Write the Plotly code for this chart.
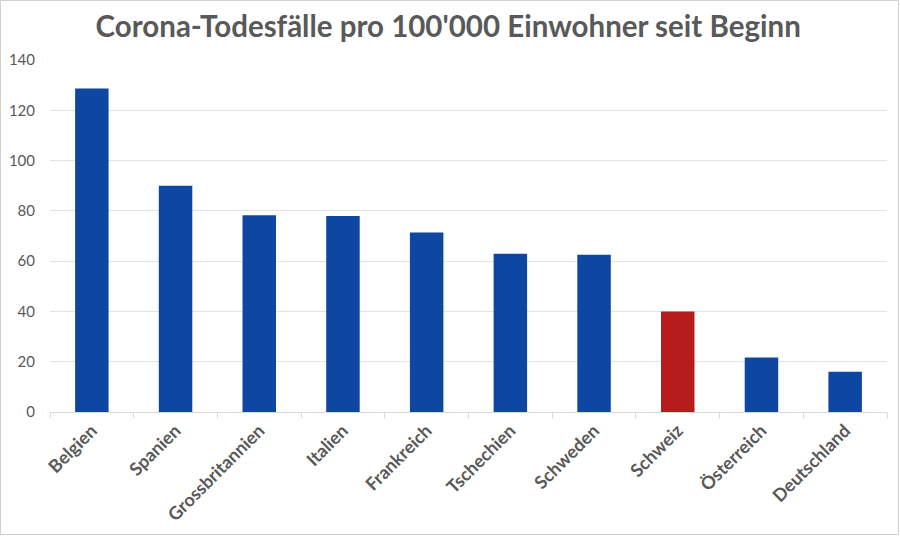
import plotly.graph_objects as go

countries = ["Belgien", "Spanien", "Grossbritannien", "Italien", "Frankreich",
             "Tschechien", "Schweden", "Schweiz", "Österreich", "Deutschland"]
deaths_per_100k = [128.7, 90.0, 78.3, 78.0, 71.4, 62.9, 62.5, 40.0, 21.7, 16.0]
highlight = "Schweiz"

blue = "#0d47a1"
red = "#b71c1c"
colors = [red if c == highlight else blue for c in countries]

W, H = 900, 536
ml, mr, mt, mb = 50, 13, 60, 124
pw, ph = W - ml - mr, H - mt - mb

fig = go.Figure(go.Bar(x=countries, y=deaths_per_100k, marker_color=colors,
                       marker_line_width=0, hoverinfo="x+y"))

fig.update_layout(
    width=W, height=H,
    margin=dict(l=ml, r=mr, t=mt, b=mb, autoexpand=False),
    paper_bgcolor="white", plot_bgcolor="white",
    bargap=0.6,
    showlegend=False,
    title=dict(text="<b>Corona-Todesfälle pro 100'000 Einwohner seit Beginn</b>",
               x=0.498, xanchor="center", y=0.95, yanchor="middle",
               font=dict(family="Lato", size=29.5, color="#595959")),
    font=dict(family="Lato", color="#595959"),
    shapes=[dict(type="rect", xref="paper", yref="paper",
                 x0=0.5 / pw - ml / pw, x1=1 + (mr - 1.5) / pw,
                 y0=-(mb - 1.5) / ph, y1=1 + (mt - 0.5) / ph,
                 line=dict(color="#d0d0d0", width=1), layer="below")],
)

fig.update_xaxes(
    automargin=False,
    showline=True, linecolor="#d9d9d9", linewidth=1,
    ticks="outside", tickcolor="#d9d9d9", ticklen=5, tickson="boundaries",
    tickangle=-45, tickfont=dict(family="Lato", size=18, color="#595959", weight="bold"),
    showgrid=False,
)
fig.update_yaxes(
    automargin=False,
    range=[0, 140], dtick=20, showgrid=True, gridcolor="#e3e3e3", gridwidth=1,
    zeroline=False, showline=False,
    tickfont=dict(family="Lato", size=15, color="#595959"),
    ticklabelstandoff=14,
)

fig.write_html("out.html", config={"displayModeBar": False},
               post_script="document.body.style.margin='0px';document.body.style.overflow='hidden';")
